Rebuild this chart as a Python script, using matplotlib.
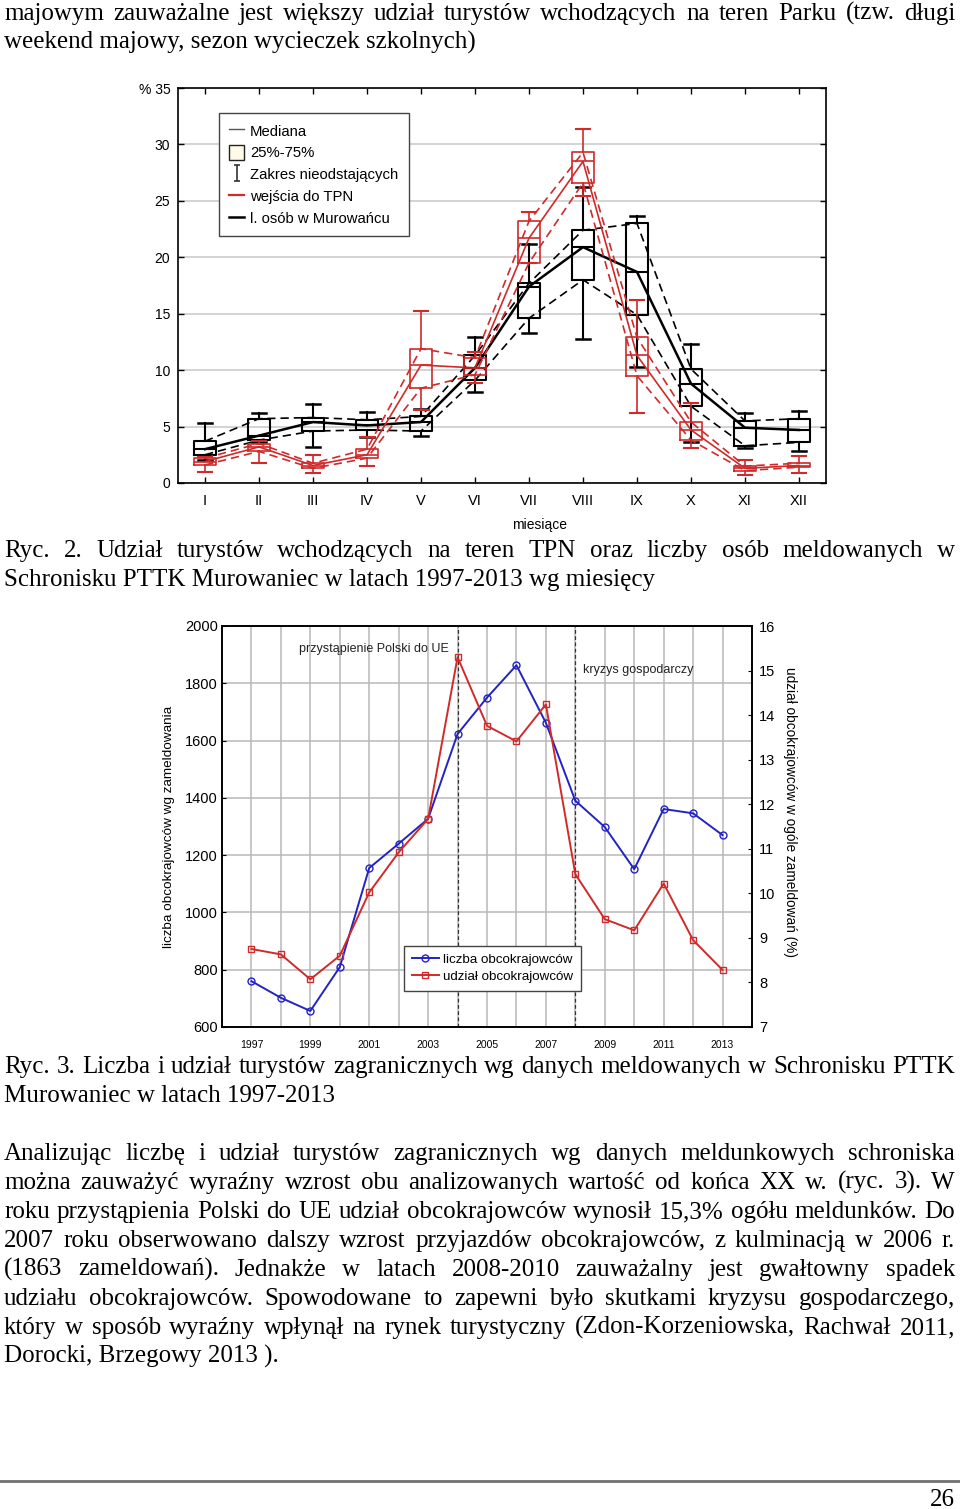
import matplotlib
matplotlib.use("Agg")
import matplotlib.pyplot as plt
from matplotlib.lines import Line2D
from matplotlib.patches import Patch
from matplotlib.path import Path

SANS = "Liberation Sans"
SERIF = "Liberation Serif"
RED = "#d02a2a"
BLUE = "#2323c4"

# ---------------- data: Ryc. 2 (monthly shares, %) ----------------
months = ["I", "II", "III", "IV", "V", "VI", "VII", "VIII", "IX", "X", "XI", "XII"]

# l. osob w Murowancu (black)
mur_med = [3.0, 4.2, 5.4, 5.1, 5.4, 10.2, 17.4, 20.9, 18.7, 8.8, 4.9, 4.7]
mur_q1 = [2.5, 3.8, 4.6, 4.7, 4.6, 9.1, 14.6, 18.0, 14.9, 6.8, 3.3, 3.6]
mur_q3 = [3.7, 5.7, 5.8, 5.6, 5.9, 11.3, 17.7, 22.4, 23.0, 10.1, 5.5, 5.7]
mur_lo = [2.0, 3.6, 3.2, 4.1, 4.2, 8.1, 13.3, 12.8, 10.3, 3.6, 3.1, 2.8]
mur_hi = [5.3, 6.2, 7.0, 6.3, 6.6, 12.9, 21.2, 26.2, 23.7, 12.3, 6.2, 6.4]

# wejscia do TPN (red)
tpn_med = [1.9, 3.2, 1.55, 2.5, 10.45, 10.2, 21.7, 28.5, 11.3, 4.7, 1.3, 1.55]
tpn_q1 = [1.6, 2.8, 1.3, 2.2, 8.4, 9.6, 19.5, 26.6, 9.5, 3.8, 1.1, 1.4]
tpn_q3 = [2.2, 3.5, 1.75, 3.0, 11.9, 11.1, 23.2, 29.3, 12.9, 5.4, 1.5, 1.75]
tpn_lo = [1.0, 1.8, 0.9, 1.5, 6.5, 8.9, 19.5, 25.4, 6.2, 3.1, 0.7, 0.85]
tpn_hi = [2.3, 3.7, 2.5, 4.1, 15.2, 11.6, 24.0, 31.4, 16.2, 7.1, 2.0, 2.35]

# ---------------- data: Ryc. 3 (yearly) ----------------
years = [1997, 1998, 1999, 2000, 2001, 2002, 2003, 2004, 2005,
         2006, 2007, 2008, 2009, 2010, 2011, 2012, 2013]
foreign_count = [760, 702, 656, 809, 1155, 1240, 1327, 1623, 1750,
                 1863, 1662, 1390, 1298, 1151, 1361, 1346, 1270]
foreign_share = [8.75, 8.63, 8.07, 8.6, 10.02, 10.92, 11.67, 15.3, 13.76,
                 13.41, 14.24, 10.43, 9.42, 9.17, 10.22, 8.95, 8.28]
events = [2004, 2008]
event_labels = ["przystąpienie Polski do UE", "kryzys gospodarczy"]

# ---------------- page text ----------------
top_lines = [
    ("majowym zauważalne jest większy udział turystów wchodzących na teren Parku (tzw. długi", True),
    ("weekend majowy, sezon wycieczek szkolnych)", False),
]
cap2_lines = [
    ("Ryc. 2. Udział turystów wchodzących na teren TPN oraz liczby osób meldowanych w", True),
    ("Schronisku PTTK Murowaniec w latach 1997-2013 wg miesięcy", False),
]
cap3_lines = [
    ("Ryc. 3. Liczba i udział turystów zagranicznych wg danych meldowanych w Schronisku PTTK", True),
    ("Murowaniec w latach 1997-2013", False),
]
para_lines = [
    ("Analizując liczbę i udział turystów zagranicznych wg danych meldunkowych schroniska", True),
    ("można zauważyć wyraźny wzrost obu analizowanych wartość od końca XX w. (ryc. 3). W", True),
    ("roku przystąpienia Polski do UE udział obcokrajowców wynosił 15,3% ogółu meldunków. Do", True),
    ("2007 roku obserwowano dalszy wzrost przyjazdów obcokrajowców, z kulminacją w 2006 r.", True),
    ("(1863 zameldowań). Jednakże w latach 2008-2010 zauważalny jest gwałtowny spadek", True),
    ("udziału obcokrajowców. Spowodowane to zapewni było skutkami kryzysu gospodarczego,", True),
    ("który w sposób wyraźny wpłynął na rynek turystyczny (Zdon-Korzeniowska, Rachwał 2011,", True),
    ("Dorocki, Brzegowy 2013 ).", False),
]

W, H = 960, 1509
fig = plt.figure(figsize=(W / 100, H / 100), dpi=100)
renderer = fig.canvas.get_renderer()


def fx(px):
    return px / W


def fy(py):
    return 1 - py / H


def body_line(text, base, justify, left=4, right=955, size=18):
    if not justify:
        fig.text(fx(left), fy(base), text, fontsize=size, family=SERIF, va="baseline")
        return
    words = text.split()
    items = [fig.text(0, fy(base), w, fontsize=size, family=SERIF, va="baseline") for w in words]
    widths = [t.get_window_extent(renderer).width for t in items]
    gap = (right - left - sum(widths)) / (len(words) - 1)
    x = left
    for t, w in zip(items, widths):
        t.set_x(fx(x))
        x += w + gap


def block(lines, first_base, step=29):
    for i, (txt, just) in enumerate(lines):
        body_line(txt, first_base + i * step, just)


block(top_lines, 20)
block(cap2_lines, 557)
block(cap3_lines, 1073)
block(para_lines, 1160)

fig.add_artist(Line2D([0, 1], [fy(1481), fy(1481)], color="#707070", lw=2))
fig.text(fx(955), fy(1506), "26", fontsize=18, family=SERIF, ha="right", va="baseline")

# ---------------- Ryc. 2 : box plots ----------------
ax1 = fig.add_axes([fx(178), fy(483), (826 - 178) / W, (483 - 88) / H])
pos = list(range(1, len(months) + 1))


def stats(med, q1, q3, lo, hi):
    return [dict(med=m, q1=a, q3=b, whislo=l, whishi=h, fliers=[])
            for m, a, b, l, h in zip(med, q1, q3, lo, hi)]


def draw_series(med, q1, q3, lo, hi, color, lw_box, lw_med):
    ax1.bxp(stats(med, q1, q3, lo, hi), positions=pos, widths=0.42, capwidths=0.26,
            showfliers=False, patch_artist=False,
            boxprops=dict(color=color, lw=lw_box),
            medianprops=dict(color=color, lw=lw_box),
            whiskerprops=dict(color=color, lw=lw_box),
            capprops=dict(color=color, lw=lw_box + 0.3))
    ax1.plot(pos, med, color=color, lw=lw_med)
    ax1.plot(pos, q1, color=color, lw=1.2, ls=(0, (5, 3)))
    ax1.plot(pos, q3, color=color, lw=1.2, ls=(0, (5, 3)))


draw_series(mur_med, mur_q1, mur_q3, mur_lo, mur_hi, "black", 1.5, 1.8)
draw_series(tpn_med, tpn_q1, tpn_q3, tpn_lo, tpn_hi, RED, 1.2, 1.2)

ax1.set_xlim(0.5, 12.5)
ax1.set_ylim(0, 35)
ax1.set_xticks(pos)
ax1.set_xticklabels(months, fontsize=10.5, family=SANS)
ax1.set_yticks([0, 5, 10, 15, 20, 25, 30, 35])
ax1.set_yticklabels(["0", "5", "10", "15", "20", "25", "30", "% 35"], fontsize=10, family=SANS)
ax1.tick_params(direction="in", top=True, right=True, length=4, width=1)
ax1.tick_params(axis="x", pad=8)
ax1.tick_params(axis="y", pad=5.5)
ax1.yaxis.grid(True, color="#cccccc", lw=1.2)
ax1.set_axisbelow(True)
for s in ax1.spines.values():
    s.set_linewidth(1.2)
ax1.set_xlabel("miesiące", fontsize=10, family=SANS)
ax1.xaxis.set_label_coords((540 - 178) / 648, -(518 - 483) / 395)

whisk = Path([(-0.45, 1), (0.45, 1), (0, 1), (0, -1), (-0.45, -1), (0.45, -1)],
             [Path.MOVETO, Path.LINETO, Path.MOVETO, Path.LINETO, Path.MOVETO, Path.LINETO])
handles = [
    Line2D([], [], color="#555555", lw=1),
    Patch(facecolor="#fffbe8", edgecolor="#222222", lw=1),
    Line2D([], [], ls="none", marker=whisk, markersize=11, markeredgecolor="#333333",
           markerfacecolor="none", markeredgewidth=1.2),
    Line2D([], [], color=RED, lw=1.6),
    Line2D([], [], color="black", lw=1.8),
]
labels = ["Mediana", "25%-75%", "Zakres nieodstających", "wejścia do TPN", "l. osób w Murowańcu"]
leg1 = ax1.legend(handles, labels, loc="upper left",
                  bbox_to_anchor=((219 - 178) / 648, (483 - 113) / 395),
                  borderaxespad=0, fancybox=False, framealpha=1, edgecolor="#444444",
                  handlelength=1.0, handleheight=1.1, handletextpad=0.4, labelspacing=0.45,
                  borderpad=0.7, prop=dict(family=SANS, size=10.7))
leg1.get_frame().set_linewidth(1.0)

# ---------------- Ryc. 3 : yearly lines ----------------
ax2 = fig.add_axes([fx(222), fy(1027), (752 - 222) / W, (1027 - 626) / H])
ax3 = ax2.twinx()

l_count, = ax2.plot(years, foreign_count, color=BLUE, lw=1.4, marker="o", markersize=5,
                    markerfacecolor="none", markeredgewidth=1.0, label="liczba obcokrajowców")
l_share, = ax3.plot(years, foreign_share, color=RED, lw=1.4, marker="s", markersize=5,
                    markerfacecolor="none", markeredgewidth=1.0, label="udział obcokrajowców")

for ev in events:
    ax2.axvline(ev, color="#333333", lw=0.9, ls=(0, (3, 2)))

ax2.text(events[0] - 0.3, 1920, event_labels[0], ha="right", va="center",
         fontsize=9, family=SANS, color="#222222")
ax2.text(events[1] + 0.25, 1846, event_labels[1], ha="left", va="center",
         fontsize=9, family=SANS, color="#222222")

ax2.set_xlim(1996, 2014)
ax2.set_ylim(600, 2000)
ax3.set_ylim(7, 16)
ax2.set_xticks(years)
ax2.set_xticklabels([str(y) if y % 2 == 1 else "" for y in years], fontsize=7.5, family=SANS)
ax2.set_yticks([600, 800, 1000, 1200, 1400, 1600, 1800, 2000])
ax2.set_yticklabels([600, 800, 1000, 1200, 1400, 1600, 1800, 2000], fontsize=10.5, family=SANS)
ax3.set_yticks([7, 8, 9, 10, 11, 12, 13, 14, 15, 16])
ax3.set_yticklabels([7, 8, 9, 10, 11, 12, 13, 14, 15, 16], fontsize=10.5, family=SANS)
ax2.tick_params(axis="x", length=0, pad=9)
ax2.tick_params(axis="y", direction="in", length=3, pad=3)
ax3.tick_params(axis="y", direction="in", length=3, pad=5)
ax2.grid(True, color="#b8b8b8", lw=1.1)
ax2.set_axisbelow(True)
for a in (ax2, ax3):
    for s in a.spines.values():
        s.set_linewidth(1.2)

ax2.set_ylabel("liczba obcokrajowców wg zameldowania", fontsize=9.7, family=SANS, labelpad=7)
ax3.set_ylabel("udział obcokrajowców w ogóle zameldowań (%)", fontsize=9.8, family=SANS,
               rotation=270, ha="center", va="center")
ax3.yaxis.set_label_coords(1 + (790 - 752) / 530, (1027 - 812) / 401)

leg2 = ax3.legend([l_count, l_share], ["liczba obcokrajowców", "udział obcokrajowców"],
                  loc="lower left", bbox_to_anchor=((404 - 222) / 530, (1027 - 991) / 401),
                  borderaxespad=0, fancybox=False, framealpha=1, edgecolor="#444444",
                  handlelength=2.0, handletextpad=0.3, labelspacing=0.35, borderpad=0.6,
                  prop=dict(family=SANS, size=9.6))
leg2.get_frame().set_linewidth(1.0)

fig.savefig("out.png", dpi=100)
